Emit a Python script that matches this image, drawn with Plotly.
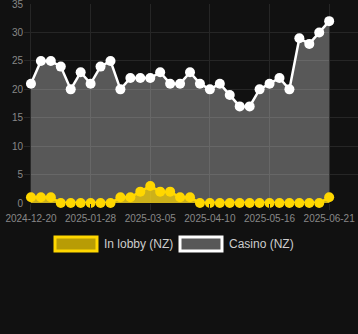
import plotly.graph_objects as go

dates = ["2024-12-20", "2024-12-27", "2025-01-03", "2025-01-10", "2025-01-16", "2025-01-22",
         "2025-01-28", "2025-02-03", "2025-02-09", "2025-02-15", "2025-02-21", "2025-02-27",
         "2025-03-05", "2025-03-11", "2025-03-17", "2025-03-23", "2025-03-29", "2025-04-04",
         "2025-04-10", "2025-04-16", "2025-04-22", "2025-04-28", "2025-05-04", "2025-05-10",
         "2025-05-16", "2025-05-22", "2025-05-28", "2025-06-03", "2025-06-09", "2025-06-15",
         "2025-06-21"]
casino = [21, 25, 25, 24, 20, 23, 21, 24, 25, 20, 22, 22, 22, 23, 21, 21, 23, 21, 20, 21,
          19, 17, 17, 20, 21, 22, 20, 29, 28, 30, 32]
lobby = [1, 1, 1, 0, 0, 0, 0, 0, 0, 1, 1, 2, 3, 2, 2, 1, 1, 0, 0, 0,
         0, 0, 0, 0, 0, 0, 0, 0, 0, 0, 1]
tick_labels = ["2024-12-20", "2025-01-28", "2025-03-05", "2025-04-10", "2025-05-16", "2025-06-21"]
y_ticks = [0, 5, 10, 15, 20, 25, 30, 35]
series_names = ["In lobby (NZ)", "Casino (NZ)"]

BG = "#111111"
GRID = "#262626"
GOLD = "#FFD700"
GOLD_FILL = "rgba(255,215,0,0.7)"
GRAY_FILL = "rgba(255,255,255,0.3)"

fig = go.Figure()
fig.add_trace(go.Scatter(
    x=dates, y=casino, mode="lines+markers", fill="tozeroy",
    fillcolor=GRAY_FILL, line=dict(color="#ffffff", width=2.5),
    marker=dict(color="#ffffff", size=10), name=series_names[1], cliponaxis=False))
fig.add_trace(go.Scatter(
    x=dates, y=lobby, mode="lines+markers", fill="tozeroy",
    fillcolor=GOLD_FILL, line=dict(color=GOLD, width=2.5),
    marker=dict(color=GOLD, size=10), name=series_names[0], cliponaxis=False))

fig.update_layout(
    width=358, height=334, paper_bgcolor=BG, plot_bgcolor=BG,
    margin=dict(l=24, r=0, t=4, b=131), showlegend=False,
    font=dict(family="Liberation Sans, Arial, sans-serif", color="#888888", size=10),
)
fig.update_xaxes(type="category", range=[-0.7, 32.9], tickvals=tick_labels, ticktext=tick_labels,
                 showgrid=True, gridcolor=GRID, gridwidth=1, ticks="outside", ticklen=6,
                 tickcolor=GRID, showline=False, zeroline=False, tickfont=dict(size=10, color="#888888"))
fig.update_yaxes(range=[0, 35.02], tickmode="array", tickvals=y_ticks,
                 ticktext=[str(v) for v in y_ticks], showgrid=True, gridcolor=GRID, gridwidth=1,
                 zeroline=False, showline=False, ticks="", ticklabeloverflow="allow",
                 tickfont=dict(size=10, color="#888888"))

# legend drawn as boxes + text
legend_y0, legend_y1 = 1 - (237 - 4) / 199, 1 - (251 - 4) / 199
boxes = [(55, 97, GOLD_FILL, GOLD, 102), (180, 222, GRAY_FILL, "#ffffff", 227)]
for (bx0, bx1, fc, lc, tx), name in zip(boxes, series_names):
    fig.add_shape(type="rect", xref="paper", yref="paper",
                  x0=(bx0 - 24) / 334, x1=(bx1 - 24) / 334, y0=legend_y0, y1=legend_y1,
                  fillcolor=fc, line=dict(color=lc, width=3))
    fig.add_annotation(xref="paper", yref="paper", x=(tx - 24) / 334, y=(legend_y0 + legend_y1) / 2,
                       text=name, showarrow=False, xanchor="left", yanchor="middle",
                       font=dict(size=12, color="#cccccc"))

fig.write_html("out.html")
